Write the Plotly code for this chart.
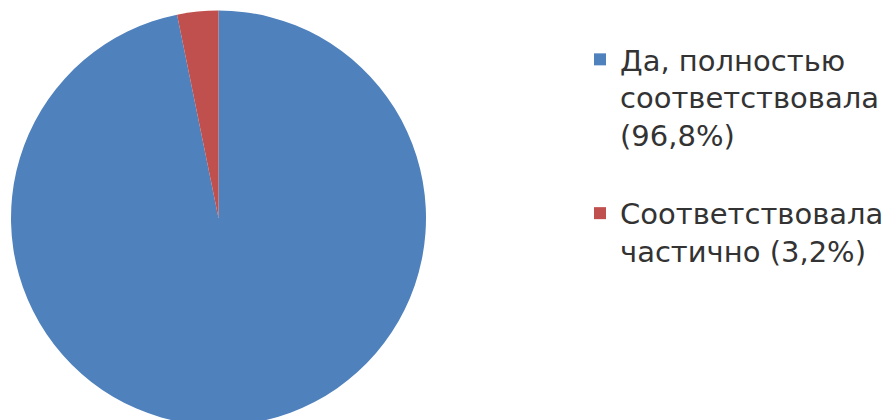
import plotly.graph_objects as go

labels = ["Да, полностью<br>соответствовала<br>(96,8%)<br>", "Соответствовала<br>частично (3,2%)"]
values = [96.8, 3.2]
colors = ["#4F81BD", "#C0504D"]

W, H = 891, 420
fig = go.Figure(go.Pie(
    labels=labels,
    values=values,
    marker=dict(colors=colors, line=dict(width=0)),
    sort=False,
    direction="clockwise",
    rotation=0,
    textinfo="none",
    hoverinfo="label+percent",
    domain=dict(x=[3 / W, 418 / W], y=[0, 1]),
))
fig.update_layout(
    width=W, height=H,
    margin=dict(l=0, r=0, t=0, b=0),
    paper_bgcolor="white",
    showlegend=True,
    legend=dict(
        x=572 / W, y=1 - 26 / H, xanchor="left", yanchor="top",
        font=dict(family="DejaVu Sans", size=29, color="#333333"),
        valign="top", itemwidth=30,
    ),
)
fig.write_html("out.html")
